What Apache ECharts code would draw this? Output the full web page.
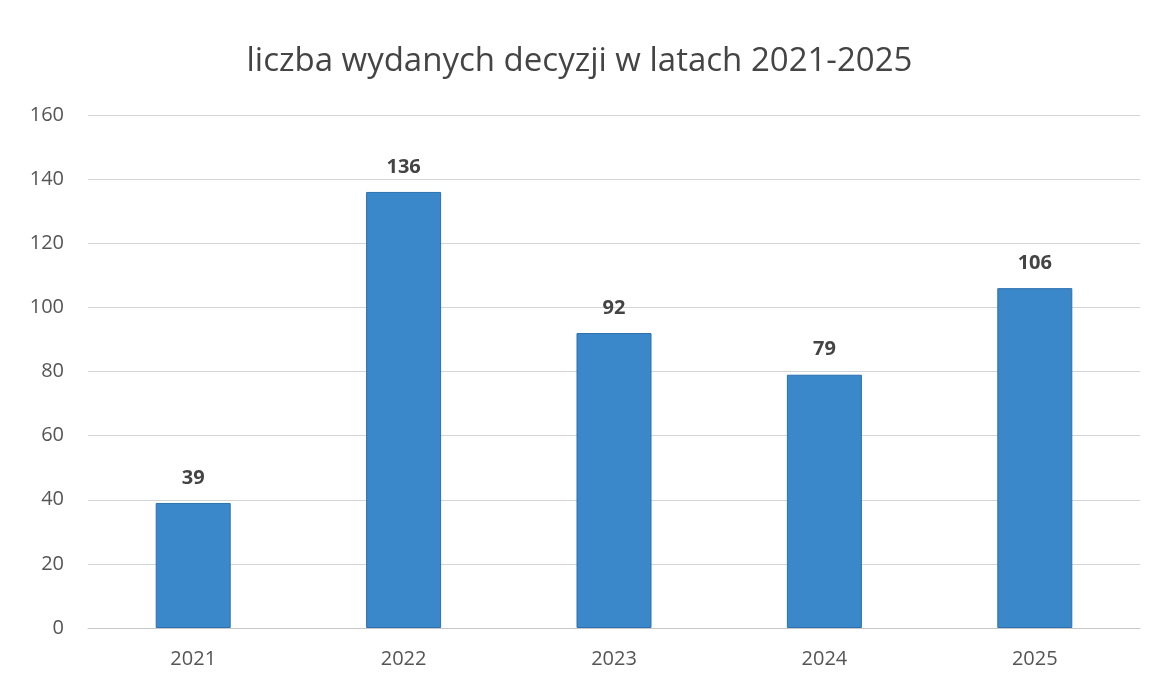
<!DOCTYPE html>
<html>
<head>
<meta charset="utf-8">
<script src="https://cdn.jsdelivr.net/npm/echarts@6/dist/echarts.min.js"></script>
<style>
  html, body { margin: 0; padding: 0; background: #fff; }
  #chart { width: 1159px; height: 682px; }
</style>
</head>
<body>
<div id="chart"></div>
<script>
const years = ['2021', '2022', '2023', '2024', '2025']
const decisions = [39, 136, 92, 79, 106]

const chart = echarts.init(document.getElementById('chart'))
chart.setOption({
  backgroundColor: '#ffffff',
  title: {
    text: 'liczba wydanych decyzji w latach 2021-2025',
    left: 'center',
    top: 40,
    textStyle: { fontFamily: 'Open Sans', fontSize: 33, fontWeight: 'normal', color: '#444' }
  },
  grid: { left: 88, right: 19, top: 115, bottom: 54 },
  xAxis: {
    type: 'category',
    data: years,
    axisLine: { lineStyle: { color: '#c8c8c8' } },
    axisTick: { show: false },
    axisLabel: { fontFamily: 'Open Sans', fontSize: 20, color: '#555', margin: 21 }
  },
  yAxis: {
    type: 'value',
    min: 0,
    max: 160,
    interval: 20,
    axisLine: { show: false },
    axisTick: { show: false },
    axisLabel: { fontFamily: 'Open Sans', fontSize: 20, color: '#555', margin: 24 },
    splitLine: { lineStyle: { color: '#d4d4d4' } }
  },
  series: [{
    type: 'bar',
    data: decisions,
    barWidth: 75,
    itemStyle: { color: '#3a87c9', borderColor: '#2c70b0', borderWidth: 1 },
    label: {
      show: true,
      position: 'top',
      distance: 15,
      fontFamily: 'Open Sans',
      fontSize: 20,
      fontWeight: 'bold',
      color: '#444'
    }
  }]
})
</script>
</body>
</html>
